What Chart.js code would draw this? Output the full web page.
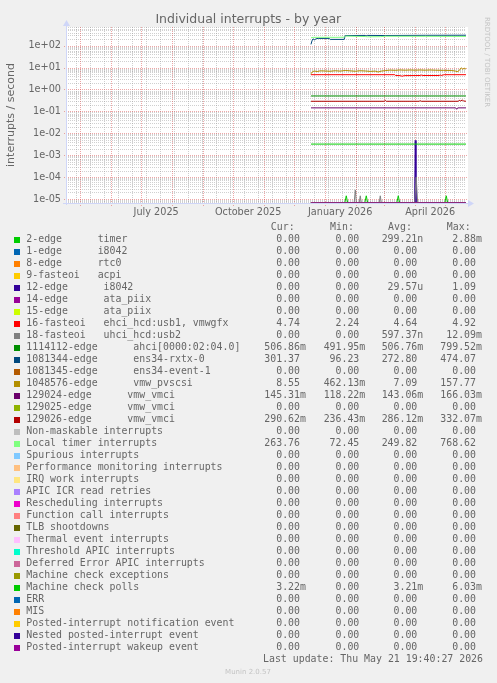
<!DOCTYPE html>
<html><head><meta charset="utf-8">
<script src="https://cdn.jsdelivr.net/npm/chart.js@4/dist/chart.umd.min.js"></script>
<style>html,body{margin:0;padding:0;background:#f0f0f0;}canvas{display:block}</style>
</head><body><canvas id="c" width="497" height="683"></canvas>
<script>
// ---------- texts ----------
const TITLE = 'Individual interrupts - by year';
const Y_TITLE = 'interrupts / second';
const WATERMARK = 'RRDTOOL / TOBI OETIKER';
const FOOTER = 'Munin 2.0.57';
const LAST_UPDATE = 'Last update: Thu May 21 19:40:27 2026';
const STAT_HEADERS = ['Cur:', 'Min:', 'Avg:', 'Max:'];

// ---------- axes ----------
const X_TICK_LABELS = ['July 2025', 'October 2025', 'January 2026', 'April 2026'];
const X_TICK_DATES = ['2025-07-16', '2025-10-16', '2026-01-16', '2026-04-16'];
const Y_TICKS = [1e-5, 1e-4, 1e-3, 1e-2, 1e-1, 1, 10, 100];
const Y_MIN = 6.57e-6, Y_MAX = 714;
// time axis in days relative to 2026-01-01 (end = May 21 19:40:27, span 400 days)
const X_END = 140.82, X_SPAN = 400;

// ---------- legend ----------
const LABELS = [
 '2-edge      timer','1-edge      i8042','8-edge      rtc0','9-fasteoi   acpi',
 '12-edge      i8042','14-edge      ata_piix','15-edge      ata_piix',
 '16-fasteoi   ehci_hcd:usb1, vmwgfx','18-fasteoi   uhci_hcd:usb2',
 '1114112-edge      ahci[0000:02:04.0]','1081344-edge      ens34-rxtx-0',
 '1081345-edge      ens34-event-1','1048576-edge      vmw_pvscsi',
 '129024-edge      vmw_vmci','129025-edge      vmw_vmci','129026-edge      vmw_vmci',
 'Non-maskable interrupts','Local timer interrupts','Spurious interrupts',
 'Performance monitoring interrupts','IRQ work interrupts','APIC ICR read retries',
 'Rescheduling interrupts','Function call interrupts','TLB shootdowns',
 'Thermal event interrupts','Threshold APIC interrupts','Deferred Error APIC interrupts',
 'Machine check exceptions','Machine check polls','ERR','MIS',
 'Posted-interrupt notification event','Nested posted-interrupt event','Posted-interrupt wakeup event'];
const COLORS = ['#00CC00','#0066B3','#FF8000','#FFCC00','#330099','#990099','#CCFF00','#FF0000',
 '#808080','#008F00','#00487D','#B35A00','#B38F00','#6B006B','#8FB300','#B30000','#BEBEBE',
 '#80FF80','#80C9FF','#FFC080','#FFE680','#AA80FF','#EE00CC','#FF8080','#666600','#FFBFFF',
 '#00FFCC','#CC6699','#999900','#00CC00','#0066B3','#FF8000','#FFCC00','#330099','#990099'];
const Z = '0.00';
const CUR = [Z,Z,Z,Z,Z,Z,Z,'4.74',Z,'506.86m','301.37',Z,'8.55','145.31m',Z,'290.62m',Z,'263.76',
 Z,Z,Z,Z,Z,Z,Z,Z,Z,Z,Z,'3.22m',Z,Z,Z,Z,Z];
const MIN = [Z,Z,Z,Z,Z,Z,Z,'2.24',Z,'491.95m','96.23',Z,'462.13m','118.22m',Z,'236.43m',Z,'72.45',
 Z,Z,Z,Z,Z,Z,Z,Z,Z,Z,Z,Z,Z,Z,Z,Z,Z];
const AVG = ['299.21n',Z,Z,Z,'29.57u',Z,Z,'4.64','597.37n','506.76m','272.80',Z,'7.09','143.06m',Z,'286.12m',Z,'249.82',
 Z,Z,Z,Z,Z,Z,Z,Z,Z,Z,Z,'3.21m',Z,Z,Z,Z,Z];
const MAX = ['2.88m',Z,Z,Z,'1.09',Z,Z,'4.92','12.09m','799.52m','474.07',Z,'157.77','166.03m',Z,'332.07m',Z,'768.62',
 Z,Z,Z,Z,Z,Z,Z,Z,Z,Z,Z,'6.03m',Z,Z,Z,Z,Z];

// ---------- series: [day since 2026-01-01, interrupts/s] ----------
const ZERO_SERIES = [[-14.2,0],[140.8,0]];
const TIMER_2 = [[-14.2,0],[19.6,0],[21.1,1.4e-5],[22.6,0],[39.6,0],[41.1,1.4e-5],[42.6,0],
 [71.6,0],[73.1,1.4e-5],[74.6,0],[119.6,0],[121.1,1.4e-5],[122.6,0],[140.8,0]];
const I8042_12 = [[-14.2,0],[89.4,0],[90.1,4.7e-3],[90.8,0],[140.8,0]];
const FASTEOI_16 = [[-14.2,4.74],[69.5,4.74],[70.5,4.35],[75,4.3],[77,4.05],[79,4.3],[95,4.35],[96,4.6],
 [97,4.35],[114,4.35],[115,4.6],[116,4.35],[119,4.74],[140.8,4.74]];
const FASTEOI_18 = [[-14.2,0],[29,0],[30.1,2.6e-5],[31.2,0],[34,0],[35.1,1.4e-5],[36.2,0],[54,0],
 [55.1,1.4e-5],[56.2,0],[89.5,0],[91,1.0e-4],[92.5,0],[140.8,0]];
const AHCI = [[-14.2,0.507],[140.8,0.507]];
const RXTX = [[-14.2,115],[-13.2,165],[-12.2,205],[-10.5,185],[-9,210],[-7,215],[4,215],[5,194],
 [19,194],[20,290],[40,295],[41,282],[42,295],[60,292],[100,298],[140.8,301]];
const PVSCSI = [[-14.2,5.2],[-13,6.3],[-11,7.0],[-8,6.6],[-5,7.1],[0,7.0],[5,6.8],[10,7.2],[15,6.9],
 [20,7.4],[25,7.1],[30,6.8],[35,7.2],[40,7.0],[45,6.7],[50,6.9],[53,6.3],[56,6.9],[60,7.3],[65,7.7],
 [70,7.5],[75,7.8],[80,7.6],[85,7.8],[90,7.6],[95,7.8],[100,7.6],[105,7.8],[110,7.6],[118,7.5],
 [126,7.4],[130,7.0],[132,6.5],[134,7.3],[136,9.8],[137.5,8.4],[139,9.4],[140.8,8.55]];
const VMCI_129024 = [[-14.2,0.145],[130.5,0.145],[131.5,0.125],[132.5,0.145],[140.8,0.145]];
const VMCI_129026 = [[-14.2,0.29],[59,0.29],[60,0.32],[61,0.29],[94,0.29],[95,0.31],[96,0.29],
 [133,0.29],[134,0.32],[135.5,0.30],[137,0.33],[138.5,0.30],[140.8,0.29]];
const LOCAL_TIMER = [[-14.2,230],[-12,240],[4,242],[10,240],[19,245],[20.5,275],[40,262],[42,255],
 [55,258],[60,270],[100,268],[140.8,264]];
const MCE_POLLS = [[-14.2,3.22e-3],[140.8,3.22e-3]];

const SERIES = {0:TIMER_2,4:I8042_12,7:FASTEOI_16,8:FASTEOI_18,9:AHCI,10:RXTX,12:PVSCSI,
 13:VMCI_129024,15:VMCI_129026,17:LOCAL_TIMER,29:MCE_POLLS};

// ---------- styling ----------
const BG = '#F0F0F0', FONT_COL = '#666666', AXIS_COL = '#CFD6F8';
const SANS = '"DejaVu Sans", sans-serif', MONO = '"DejaVu Sans Mono", monospace';

function dayOf(s){const [y,m,d]=s.split('-').map(Number);return (Date.UTC(y,m-1,d)-Date.UTC(2026,0,1))/86400000;}
function fmtExp(v){const e=Math.round(Math.log10(v));return '1e'+(e<0?'-':'+')+String(Math.abs(e)).padStart(2,'0');}

const datasets = LABELS.map((lab,i)=>({
  label: lab,
  data: (SERIES[i]||ZERO_SERIES).map(([d,v])=>({x:d,y:Math.max(v,Y_MIN)})),
  borderColor: COLORS[i], backgroundColor: COLORS[i],
  borderWidth: 1, pointRadius: 0, tension: 0, fill: false,
  order: LABELS.length - i, clip: {left:0,right:0,top:0,bottom:1}
}));

function hline(ctx, x0, x1, py){ for (let px=x0; px<x1; px+=2) ctx.fillRect(px, py, 1, 1); }
function vline(ctx, px, y0, y1){ for (let py=y0; py<y1; py+=2) ctx.fillRect(px, py, 1, 1); }

const decor = {
  id:'decor',
  beforeDraw(chart){
    const {ctx, chartArea:a} = chart;
    ctx.save();
    ctx.fillStyle = BG; ctx.fillRect(0,0,chart.width,chart.height);
    ctx.fillStyle = '#FFFFFF'; ctx.fillRect(a.left, a.top, a.right-a.left+2, a.bottom-a.top);
    ctx.restore();
  },
  beforeDatasetsDraw(chart){
    const {ctx, chartArea:a, scales:{x,y}} = chart;
    const L = Math.round(a.left), R = Math.round(a.right), T = Math.round(a.top), B = Math.round(a.bottom);
    ctx.save();
    // minor grid (dotted grey)
    ctx.fillStyle = 'rgba(143,143,143,0.42)';
    for (let e=-6;e<=3;e++) for (let k=2;k<=9;k++){
      const v=k*Math.pow(10,e); if (v<Y_MIN||v>Y_MAX) continue;
      hline(ctx, L, R, Math.round(y.getPixelForValue(v)));
    }
    for (let d=3-14*20; d<=X_END; d+=14){
      if (d < X_END-X_SPAN) continue;
      vline(ctx, Math.round(x.getPixelForValue(d)), T, B);
    }
    // major grid (dotted red)
    ctx.fillStyle = 'rgba(222,79,79,0.5)';
    Y_TICKS.forEach(v=> hline(ctx, L-2, R+2, Math.round(y.getPixelForValue(v))));
    for (let m=4; m<=17; m++){
      const yr = 2025 + Math.floor(m/12), mo = m%12;
      const d = (Date.UTC(yr,mo,1)-Date.UTC(2026,0,1))/86400000;
      if (d < X_END-X_SPAN || d > X_END) continue;
      vline(ctx, Math.round(x.getPixelForValue(d)), T, B+3);
    }
    ctx.restore();
  },
  afterDatasetsDraw(chart){
    const {ctx, chartArea:a} = chart;
    ctx.save();
    ctx.strokeStyle = AXIS_COL; ctx.fillStyle = AXIS_COL; ctx.lineWidth = 1;
    ctx.beginPath(); ctx.moveTo(a.left+0.5, a.bottom+2); ctx.lineTo(a.left+0.5, a.top-3); ctx.stroke();
    ctx.beginPath(); ctx.moveTo(a.left-3, a.bottom+0.5); ctx.lineTo(a.right+3, a.bottom+0.5); ctx.stroke();
    ctx.beginPath(); ctx.moveTo(a.left+0.5, a.top-7); ctx.lineTo(a.left-3, a.top-1); ctx.lineTo(a.left+4, a.top-1); ctx.closePath(); ctx.fill();
    ctx.beginPath(); ctx.moveTo(a.right+8, a.bottom+0.5); ctx.lineTo(a.right+2, a.bottom-3); ctx.lineTo(a.right+2, a.bottom+4); ctx.closePath(); ctx.fill();
    ctx.restore();
  },
  afterDraw(chart){
    const ctx = chart.ctx;
    ctx.save();
    ctx.fillStyle = FONT_COL; ctx.textBaseline = 'middle';
    ctx.font = '12.5px '+SANS; ctx.textAlign = 'center';
    ctx.fillText(TITLE, 248.3, 19.5);
    ctx.save(); ctx.translate(10.7,115); ctx.rotate(-Math.PI/2);
    ctx.font = '11px '+SANS; ctx.fillText(Y_TITLE,0,0); ctx.restore();
    ctx.save(); ctx.translate(487,62); ctx.rotate(Math.PI/2);
    ctx.fillStyle = '#C4C4C4'; ctx.font = '7px '+SANS; ctx.fillText(WATERMARK,0,0); ctx.restore();
    ctx.fillStyle = '#C4C4C4'; ctx.font = '7px '+SANS; ctx.fillText(FOOTER, 248, 672.5);
    ctx.fillStyle = FONT_COL; ctx.font = '9.9px '+MONO;
    const ends = [300, 359.3, 417.3, 476];
    ctx.textAlign = 'right';
    STAT_HEADERS.forEach((h,j)=>ctx.fillText(h, ends[j]-5.4, 227.5));
    const cols = [CUR, MIN, AVG, MAX];
    LABELS.forEach((lab,i)=>{
      const cy = 239.5 + 12*i;
      ctx.fillStyle = COLORS[i]; ctx.fillRect(14, Math.round(cy-3), 6, 6);
      ctx.fillStyle = FONT_COL; ctx.textAlign = 'left';
      ctx.fillText(lab, 26.3, cy);
      cols.forEach((arr,j)=>{
        const s = arr[i]; const m = s.match(/^([\d.]+)(\D?)$/);
        ctx.textAlign = 'right'; ctx.fillText(m[1], ends[j], cy);
        if (m[2]) { ctx.textAlign = 'left'; ctx.fillText(m[2], ends[j], cy); }
      });
    });
    ctx.textAlign = 'right';
    ctx.fillText(LAST_UPDATE, 483, 659.7);
    ctx.restore();
  }
};

new Chart(document.getElementById('c'), {
  type: 'line',
  data: { datasets },
  plugins: [decor],
  options: {
    responsive: false, animation: false, devicePixelRatio: 1,
    layout: { padding: { left: 0, top: 27, right: 31, bottom: 0 } },
    plugins: { legend: { display: false }, tooltip: { enabled: false }, title: { display: false } },
    scales: {
      x: {
        type: 'linear', min: X_END - X_SPAN, max: X_END,
        afterFit(s){ s.height = 480; },
        afterBuildTicks(s){ s.ticks = X_TICK_DATES.map(d=>({value: dayOf(d)})); },
        grid: { display: false, drawTicks: false }, border: { display: false },
        ticks: { autoSkip: false, maxRotation: 0, padding: 4, color: FONT_COL,
          font: { family: 'DejaVu Sans', size: 9.7 },
          callback: (v, i) => X_TICK_LABELS[i] }
      },
      y: {
        type: 'logarithmic', min: Y_MIN, max: Y_MAX,
        afterFit(s){ s.width = 66; },
        afterBuildTicks(s){ s.ticks = Y_TICKS.map(v=>({value: v})); },
        grid: { display: false, drawTicks: false }, border: { display: false },
        ticks: { autoSkip: false, padding: 5, color: FONT_COL,
          font: { family: 'DejaVu Sans', size: 9.7 },
          callback: (v) => fmtExp(v) }
      }
    }
  }
});
</script>
</body></html>
